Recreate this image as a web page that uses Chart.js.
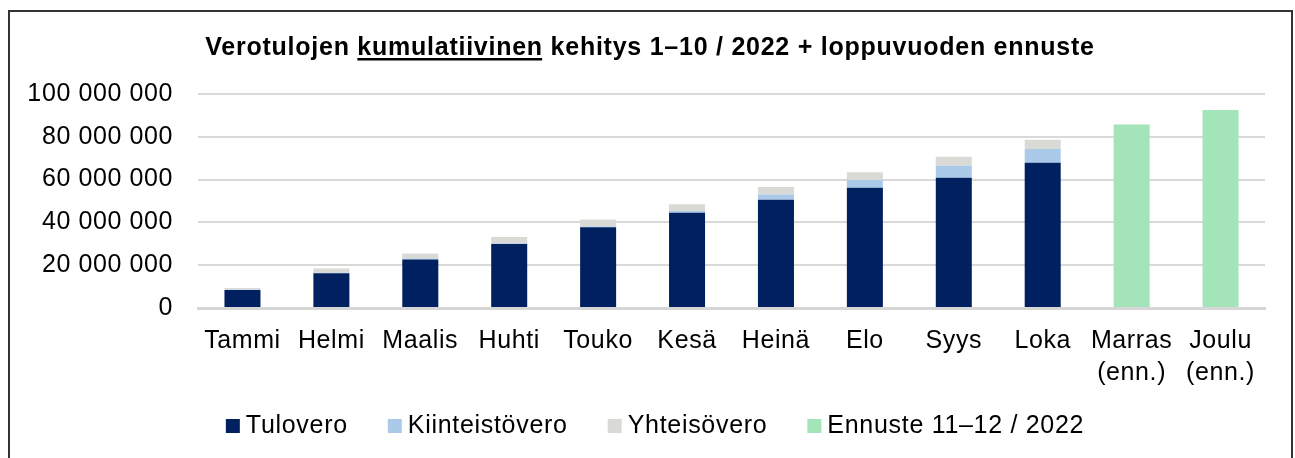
<!DOCTYPE html>
<html lang="fi">
<head>
<meta charset="utf-8">
<title>Verotulojen kumulatiivinen kehitys</title>
<script src="https://cdn.jsdelivr.net/npm/chart.js@4.4.1/dist/chart.umd.min.js"></script>
<style>
   html, body { margin: 0; padding: 0; background: #fff; }
   #wrap { position: relative; width: 1295px; height: 458px; overflow: hidden; }
   #frame { position: absolute; left: 8px; top: 10px; width: 1285px; height: 470px; border: 2px solid #333; box-sizing: border-box; }
   #chartVero { position: absolute; left: 0; top: 0; }
</style>
</head>
<body>
<div id="wrap">
   <div id="frame"></div>
   <canvas id="chartVero" width="1295" height="458"></canvas>
</div>
<script>
const kuukaudet = ['Tammi', 'Helmi', 'Maalis', 'Huhti', 'Touko', 'Kesä', 'Heinä', 'Elo', 'Syys', 'Loka', ['Marras', '(enn.)'], ['Joulu', '(enn.)']];
const tulovero = [8400000, 16200000, 22700000, 29900000, 37700000, 44500000, 50600000, 56200000, 60900000, 67900000, null, null];
const kiinteistovero = [100000, 300000, 400000, 400000, 400000, 800000, 2400000, 3600000, 5600000, 6400000, null, null];
const yhteisovero = [800000, 2000000, 2400000, 2900000, 3200000, 3200000, 3500000, 3600000, 4200000, 4300000, null, null];
const ennuste = [null, null, null, null, null, null, null, null, null, null, 85700000, 92500000];
const yTicks = [0, 20000000, 40000000, 60000000, 80000000, 100000000];

const FONT = "'Liberation Sans', Arial, sans-serif";
const TITLE_START = 'Verotulojen ';
const TITLE_UNDERLINED = 'kumulatiivinen';
const TITLE_END = ' kehitys 1–10 / 2022 + loppuvuoden ennuste';

const FORMAT_TUHAT = value => String(value).replace(/\B(?=(\d{3})+(?!\d))/g, ' ');

// hieman leveämpi teksti kuin Liberationissa oletuksena
const kirjainvali = {
   id: 'kirjainvali',
   beforeDraw(chart) { chart.ctx.letterSpacing = '0.6px'; }
};

// otsikko alleviivauksella
const otsikkoPlugin = {
   id: 'otsikko',
   afterDraw(chart) {
      const c = chart.ctx;
      c.save();
      c.font = 'bold 25px ' + FONT;
      c.letterSpacing = '0.75px';
      c.fillStyle = '#000';
      c.textBaseline = 'alphabetic';
      c.textAlign = 'left';
      const full = TITLE_START + TITLE_UNDERLINED + TITLE_END;
      const w = c.measureText(full).width;
      const x0 = 650 - w / 2;
      const y = 55;
      c.fillText(full, x0, y);
      const ux = x0 + c.measureText(TITLE_START).width;
      const uw = c.measureText(TITLE_UNDERLINED).width - 0.75;
      c.fillRect(ux, y + 3, uw, 2.5);
      c.restore();
   }
};

// selite alareunaan
const selitePlugin = {
   id: 'selite',
   afterDraw(chart) {
      const c = chart.ctx;
      c.save();
      c.font = '25px ' + FONT;
      c.letterSpacing = '0.7px';
      c.textBaseline = 'middle';
      c.textAlign = 'left';
      const box = 14, gapText = 6, gapItem = 40, yMid = 426;
      const items = chart.data.datasets.map(ds => ({ text: ds.label, color: ds.backgroundColor, w: c.measureText(ds.label).width }));
      const total = items.reduce((s, it) => s + box + gapText + it.w, 0) + gapItem * (items.length - 1);
      let x = 655 - total / 2;
      items.forEach(it => {
         c.fillStyle = it.color;
         c.fillRect(x, yMid - box / 2, box, box);
         c.fillStyle = '#000';
         c.fillText(it.text, x + box + gapText, yMid);
         x += box + gapText + it.w + gapItem;
      });
      c.restore();
   }
};

const ctx = document.getElementById('chartVero').getContext('2d');
const chartVero = new Chart(ctx, {
   type: 'bar',
   data: {
      labels: kuukaudet,
      datasets: [
         { label: 'Tulovero', data: tulovero, backgroundColor: '#002060' },
         { label: 'Kiinteistövero', data: kiinteistovero, backgroundColor: '#abcaea' },
         { label: 'Yhteisövero', data: yhteisovero, backgroundColor: '#d9d9d6' },
         { label: 'Ennuste 11–12 / 2022', data: ennuste, backgroundColor: '#a3e4b9' },
      ]
   },
   options: {
      responsive: false,
      animation: false,
      devicePixelRatio: 1,
      layout: { padding: { top: 94, right: 30, bottom: 65, left: 0 } },
      datasets: { bar: { categoryPercentage: 1, barPercentage: 0.405 } },
      scales: {
         x: {
            stacked: true,
            grid: { display: false, drawTicks: false },
            border: { display: true, color: '#d6d6d6', width: 3 },
            ticks: {
               color: '#000', padding: 17, maxRotation: 0, autoSkip: false,
               font: { family: FONT, size: 25, lineHeight: 1.28 }
            },
            afterFit: scale => { scale.height = 85; }
         },
         y: {
            stacked: true,
            min: 0, max: 100000000,
            afterBuildTicks: scale => { scale.ticks = yTicks.map(v => ({ value: v })); },
            grid: { color: '#d9d9d9', lineWidth: 2, drawTicks: false },
            border: { display: false },
            ticks: {
               color: '#000', padding: 25,
               font: { family: FONT, size: 25 },
               callback: value => FORMAT_TUHAT(value)
            },
            afterFit: scale => { scale.width = 198; }
         }
      },
      plugins: {
         title: { display: false },
         tooltip: { enabled: false },
         legend: { display: false }
      }
   },
   plugins: [kirjainvali, otsikkoPlugin, selitePlugin]
});
</script>
</body>
</html>
